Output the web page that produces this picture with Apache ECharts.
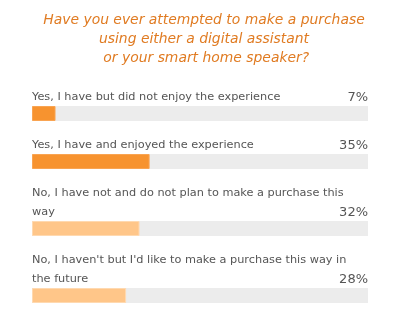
<!DOCTYPE html>
<html><head><meta charset="utf-8">
<script src="https://cdn.jsdelivr.net/npm/echarts@6/dist/echarts.min.js"></script>
<style>html,body{margin:0;padding:0;background:#fff}#c{width:408px;height:315px}</style>
</head><body><div id="c"></div>
<script>
const titleText = "Have you ever attempted to make a purchase\nusing either a digital assistant\n or your smart home speaker?";
const categories = [
  "Yes, I have but did not enjoy the experience",
  "Yes, I have and enjoyed the experience",
  "No, I have not and do not plan to make a purchase this\nway",
  "No, I haven't but I'd like to make a purchase this way in\nthe future"
];
const values = [7, 35, 32, 28];
const barColors = ["#f7932f", "#f7932f", "#ffc689", "#ffc689"];
const gridTops = [106, 154, 221, 288];

const grids = [], xAxes = [], yAxes = [], series = [];
categories.forEach((cat, i) => {
  grids.push({left: 32, width: 336, top: gridTops[i], height: 15});
  xAxes.push({type: 'value', min: 0, max: 100, gridIndex: i, show: false});
  yAxes.push({type: 'category', data: [cat], gridIndex: i, show: false});
  series.push({
    type: 'bar', xAxisIndex: i, yAxisIndex: i, barWidth: 15, silent: true,
    data: [100], itemStyle: {color: '#ececec'}, animation: false,
    label: {show: true, formatter: () => values[i] + '%', position: ['100%', 1],
      align: 'right', verticalAlign: 'bottom', lineHeight: 19,
      fontFamily: 'DejaVu Sans', fontSize: 13, color: '#555'}
  });
  series.push({
    type: 'bar', xAxisIndex: i, yAxisIndex: i, barWidth: 15, barGap: '-100%', silent: true,
    data: [values[i]], animation: false,
    itemStyle: {color: barColors[i], borderColor: i >= 2 ? '#ffd9b0' : '#f9a452', borderWidth: 1},
    label: {show: true, formatter: () => cat, position: [0, 1],
      align: 'left', verticalAlign: 'bottom', lineHeight: 19,
      fontFamily: 'DejaVu Sans', fontSize: 11.3, color: '#555'}
  });
});

const chart = echarts.init(document.getElementById('c'), null, {renderer: 'canvas'});
chart.setOption({
  animation: false,
  title: {text: titleText, left: 'center', top: 6,
    textStyle: {fontFamily: 'DejaVu Sans', fontStyle: 'italic', fontWeight: 'normal', fontSize: 13.9,
      lineHeight: 19, color: '#e07b22'}},
  grid: grids, xAxis: xAxes, yAxis: yAxes, series: series
});
</script></body></html>
